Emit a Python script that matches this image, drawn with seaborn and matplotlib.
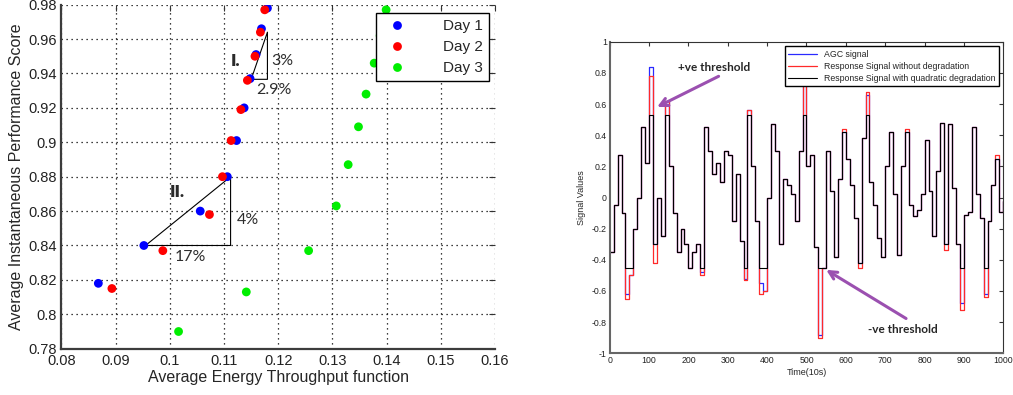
import numpy as np
import pandas as pd
import seaborn as sns
import matplotlib.pyplot as plt
from matplotlib.ticker import FormatStrFormatter

# left panel: energy throughput vs performance score, one series per day
day_names = ["Day 1", "Day 2", "Day 3"]
day1_energy = [0.0868, 0.0952, 0.1056, 0.1106, 0.1123, 0.1137, 0.1148, 0.1159, 0.1169, 0.1180]
day1_score = [0.818, 0.840, 0.860, 0.880, 0.901, 0.920, 0.937, 0.951, 0.966, 0.978]
day2_energy = [0.0893, 0.0987, 0.1073, 0.1097, 0.1113, 0.1131, 0.1143, 0.1157, 0.1167, 0.1175]
day2_score = [0.815, 0.837, 0.858, 0.880, 0.901, 0.919, 0.936, 0.950, 0.964, 0.977]
day3_energy = [0.1016, 0.1141, 0.1256, 0.1307, 0.1329, 0.1348, 0.1362, 0.1377, 0.1388, 0.1399]
day3_score = [0.790, 0.813, 0.837, 0.863, 0.887, 0.909, 0.928, 0.946, 0.962, 0.977]

# slope triangles drawn over the plot
tri1_x = [0.1150, 0.1180, 0.1180, 0.1150]
tri1_y = [0.9366, 0.9366, 0.9640, 0.9366]
tri2_x = [0.0955, 0.1112, 0.1112, 0.0955]
tri2_y = [0.840, 0.840, 0.880, 0.840]

time_10s = np.arange(0, 1001, 10)
signal_ticks = [-1, -0.8, -0.6, -0.4, -0.2, 0, 0.2, 0.4, 0.6, 0.8, 1]
agc_signal = [
    -0.35, -0.05, 0.27, -0.10, -0.62, -0.50, -0.20, 0.00, 0.45, 0.22,
    0.84, -0.30, 0.00, -0.25, 0.62, 0.20, -0.10, -0.35, -0.20, -0.30,
    -0.45, -0.35, -0.30, -0.48, 0.45, 0.30, 0.15, 0.22, 0.10, 0.30,
    0.27, -0.15, 0.15, -0.28, -0.52, 0.56, 0.20, -0.15, -0.55, -0.60,
    0.00, 0.47, 0.30, -0.30, 0.12, 0.08, 0.02, -0.15, 0.30, 0.80,
    0.20, 0.27, -0.32, -0.88, -0.45, 0.30, 0.04, -0.38, 0.12, 0.42,
    0.25, 0.08, -0.13, -0.42, 0.38, 0.66, 0.10, -0.05, -0.26, -0.38,
    0.20, 0.42, 0.02, -0.37, 0.20, 0.42, -0.05, -0.12, -0.08, 0.02,
    0.37, 0.04, -0.25, 0.17, 0.48, -0.30, 0.47, 0.06, -0.30, -0.68,
    -0.11, -0.09, 0.45, 0.02, -0.13, -0.62, -0.15, 0.08, 0.25, -0.09,
    -0.02]
response_plain = [
    -0.35, -0.05, 0.27, -0.10, -0.65, -0.50, -0.20, 0.00, 0.45, 0.22,
    0.78, -0.42, 0.00, -0.25, 0.62, 0.20, -0.10, -0.35, -0.20, -0.30,
    -0.45, -0.35, -0.30, -0.50, 0.45, 0.30, 0.15, 0.22, 0.10, 0.30,
    0.27, -0.15, 0.15, -0.28, -0.53, 0.56, 0.20, -0.15, -0.62, -0.60,
    0.00, 0.47, 0.30, -0.30, 0.12, 0.08, 0.02, -0.15, 0.30, 0.83,
    0.20, 0.27, -0.32, -0.90, -0.45, 0.30, 0.04, -0.38, 0.12, 0.44,
    0.25, 0.08, -0.13, -0.45, 0.38, 0.68, 0.10, -0.05, -0.26, -0.38,
    0.20, 0.42, 0.02, -0.37, 0.20, 0.44, -0.05, -0.12, -0.08, 0.02,
    0.37, 0.04, -0.25, 0.17, 0.48, -0.34, 0.47, 0.06, -0.30, -0.72,
    -0.11, -0.09, 0.45, 0.02, -0.13, -0.64, -0.15, 0.08, 0.27, -0.09,
    -0.02]
response_quad = [
    -0.35, -0.05, 0.27, -0.10, -0.45, -0.45, -0.20, 0.00, 0.45, 0.22,
    0.53, -0.30, 0.00, -0.25, 0.53, 0.20, -0.10, -0.35, -0.20, -0.30,
    -0.45, -0.35, -0.30, -0.45, 0.45, 0.30, 0.15, 0.22, 0.10, 0.30,
    0.27, -0.15, 0.15, -0.28, -0.45, 0.53, 0.20, -0.15, -0.45, -0.45,
    0.00, 0.47, 0.30, -0.30, 0.12, 0.08, 0.02, -0.15, 0.30, 0.53,
    0.20, 0.27, -0.32, -0.45, -0.45, 0.30, 0.04, -0.38, 0.12, 0.42,
    0.25, 0.08, -0.13, -0.42, 0.38, 0.53, 0.10, -0.05, -0.26, -0.38,
    0.20, 0.42, 0.02, -0.37, 0.20, 0.42, -0.05, -0.12, -0.08, 0.02,
    0.37, 0.04, -0.25, 0.17, 0.48, -0.30, 0.47, 0.06, -0.30, -0.45,
    -0.11, -0.09, 0.45, 0.02, -0.13, -0.45, -0.15, 0.08, 0.25, -0.09,
    -0.02]

sns.set_style("white")
plt.rcParams["font.family"] = ["Liberation Sans", "DejaVu Sans"]
callout_font = ["Lato", "DejaVu Sans"]

fig = plt.figure(figsize=(10.13, 3.95), dpi=100)
ax1 = fig.add_axes([0.0607, 0.1172, 0.428, 0.871])
ax2 = fig.add_axes([0.6019, 0.1056, 0.3885, 0.7888])

# ---- left panel ----
df = pd.DataFrame({
    "energy": day1_energy + day2_energy + day3_energy,
    "score": day1_score + day2_score + day3_score,
    "day": [day_names[0]] * len(day1_energy) + [day_names[1]] * len(day2_energy)
           + [day_names[2]] * len(day3_energy),
})
sns.scatterplot(data=df, x="energy", y="score", hue="day",
                palette=["#0000ff", "#ff0000", "#00ee00"],
                s=40, linewidth=0, ax=ax1, zorder=3)

ax1.plot(tri1_x, tri1_y, color="black", lw=0.8, zorder=2)
ax1.plot(tri2_x, tri2_y, color="black", lw=0.8, zorder=2)

ax1.set_xlim(0.08, 0.16)
ax1.set_ylim(0.78, 0.98)
ax1.set_xticks(np.round(np.arange(0.08, 0.1601, 0.01), 2))
ax1.set_yticks(np.round(np.arange(0.78, 0.9801, 0.02), 2))
ax1.xaxis.set_major_formatter(FormatStrFormatter("%g"))
ax1.yaxis.set_major_formatter(FormatStrFormatter("%g"))
ax1.grid(True, color="black", linestyle=(0, (1, 3)), lw=0.9)
for side in ["top", "right"]:
    ax1.spines[side].set_visible(False)
for side in ["left", "bottom"]:
    ax1.spines[side].set_color("#3c3c3c")
    ax1.spines[side].set_linewidth(1.6)
ax1.tick_params(direction="in", length=4, top=True, right=True,
                labelsize=10.5, labelcolor="#222222", color="#333333")
ax1.set_xlabel("Average Energy Throughput function", fontsize=11.5, labelpad=2)
ax1.set_ylabel("Average Instantaneous Performance Score", fontsize=11.5, labelpad=3)

ax1.text(0.1112, 0.947, "I.", fontsize=12.5, fontweight="heavy", color="#2a2a2a",
         va="center", family=callout_font)
ax1.text(0.1187, 0.9474, "3%", fontsize=11.5, color="#2e2e2e", va="center", family=callout_font)
ax1.text(0.1159, 0.9304, "2.9%", fontsize=11.5, color="#2e2e2e", va="center", family=callout_font)
ax1.text(0.1000, 0.8713, "II.", fontsize=12.5, fontweight="heavy", color="#2a2a2a",
         va="center", family=callout_font)
ax1.text(0.1123, 0.8548, "4%", fontsize=11.5, color="#2e2e2e", va="center", family=callout_font)
ax1.text(0.1009, 0.8335, "17%", fontsize=11.5, color="#2e2e2e", va="center", family=callout_font)

sns.move_legend(ax1, "upper right", bbox_to_anchor=(0.9855, 0.975), title=None,
                fontsize=11, frameon=True, fancybox=False, edgecolor="black",
                framealpha=1, borderaxespad=0, handletextpad=2.0, labelspacing=0.45,
                borderpad=0.4)
ax1.get_legend().get_frame().set_linewidth(1.0)

# ---- right panel ----
sns.lineplot(x=time_10s, y=agc_signal, ax=ax2, color="#2a2aff", lw=0.9,
             drawstyle="steps-post", label="AGC signal")
sns.lineplot(x=time_10s, y=response_plain, ax=ax2, color="#ff2a2a", lw=0.9,
             drawstyle="steps-post", label="Response Signal without degradation")
sns.lineplot(x=time_10s, y=response_quad, ax=ax2, color="black", lw=0.8,
             drawstyle="steps-post", label="Response Signal with quadratic degradation")

ax2.set_xlim(0, 1000)
ax2.set_ylim(-1, 1)
ax2.set_xticks(np.arange(0, 1001, 100))
ax2.set_yticks(signal_ticks)
ax2.set_yticklabels([f"{v:g}" for v in signal_ticks])
ax2.tick_params(direction="in", length=3, top=True, right=True,
                labelsize=6.3, labelcolor="#222222", color="#333333", pad=2)
for side in ["top", "right"]:
    ax2.spines[side].set_color("#333333")
    ax2.spines[side].set_linewidth(0.8)
for side in ["left", "bottom"]:
    ax2.spines[side].set_color("#666666")
    ax2.spines[side].set_linewidth(1.5)
ax2.set_xlabel("Time(10s)", fontsize=6.5, labelpad=2)
ax2.set_ylabel("Signal Values", fontsize=6.5, labelpad=4)

ax2.legend(loc="upper right", bbox_to_anchor=(0.99, 0.986), fontsize=6.3,
           frameon=True, fancybox=False, edgecolor="black", framealpha=1,
           borderaxespad=0, handlelength=3.3, labelspacing=0.35)

arrow_color = "#9b50b0"
ax2.annotate("", xy=(114, 0.573), xytext=(283, 0.786),
             arrowprops=dict(arrowstyle="->", lw=2.2, color=arrow_color, mutation_scale=14))
ax2.text(266, 0.836, "+ve threshold", ha="center", va="center", fontsize=8.5,
         fontweight="bold", family=callout_font)
ax2.annotate("", xy=(544, -0.455), xytext=(759, -0.786),
             arrowprops=dict(arrowstyle="->", lw=2.2, color=arrow_color, mutation_scale=14))
ax2.text(744, -0.85, "-ve threshold", ha="center", va="center", fontsize=8.5,
         fontweight="bold", family=callout_font)

fig.savefig("out.png", dpi=100)
